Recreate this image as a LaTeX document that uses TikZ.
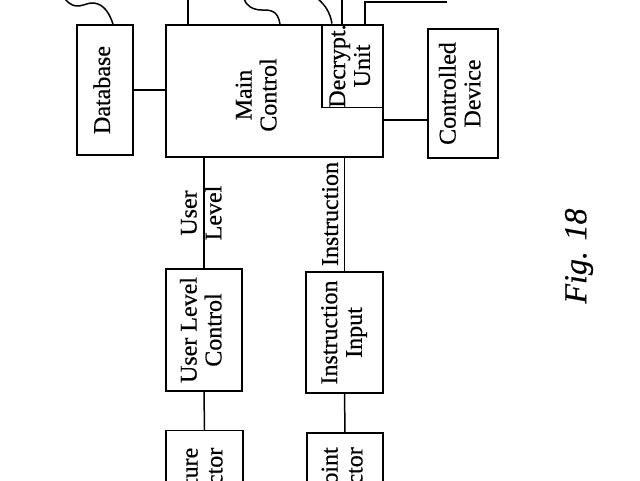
\documentclass[tikz,border=0pt]{standalone}
\usepackage{graphicx}
\usepackage{fontspec}
\setmainfont{Liberation Serif}[FakeBold=0.5]
\newcommand\vtext[1]{\rotatebox{90}{\begin{tabular}{@{}c@{}}#1\end{tabular}}}
\newcommand\vtextr[1]{\rotatebox{90}{\begin{tabular}{@{}r@{}}#1\end{tabular}}}
\newcommand\fsz{\fontsize{24}{24.8}\selectfont}
\begin{document}
\begin{tikzpicture}[x=1pt,y=-1pt, line width=1.5pt,
  box/.style={draw, inner sep=0pt, font=\fsz},
  lbl/.style={inner sep=0pt, font=\fsz}]
\useasboundingbox (0,0) rectangle (640,480);
\clip (0,0) rectangle (640,480);
% boxes
\node[box, minimum width=56pt, minimum height=130pt] (db) at (105,90) {\vtext{Database}};
\node[box, minimum width=217pt, minimum height=132pt] (main) at (274.5,91) {};
\node[lbl] (maintxt) at (259,95) {\vtext{Main\\Control}};
\node[box, minimum width=61pt, minimum height=82pt] (dec) at (352.5,66) {\vtext{Decrypt.\\Unit}};
\node[box, minimum width=70pt, minimum height=129pt] (dev) at (463,93.5) {\vtext{Controlled\\Device}};
\node[box, minimum width=76pt, minimum height=122pt] (ulc) at (204,330) {\vtext{User Level\\Control}};
\node[box, minimum width=77pt, minimum height=121pt] (ii) at (344.5,332.5) {\vtext{Instruction\\Input}};
\node[box, minimum width=77pt, minimum height=129pt] (sig) at (204.5,495) {};
\node[lbl, anchor=north] (sigtxt) at (205,447) {\vtextr{Signature\\Detector}};
\node[box, minimum width=76pt, minimum height=127pt] (ep) at (345,496.5) {};
\node[lbl, anchor=north] (eptxt) at (345,446.5) {\vtextr{Endpoint\\Detector}};
% connectors
\draw (db.east) -- (db.east -| main.west);
\draw ([yshift=-26.5pt]dev.west) coordinate (cd) -- (cd -| main.east);
\draw (ulc.north) -- (ulc.north |- main.south);
\draw (ii.north) -- (ii.north |- main.south);
\draw (ulc.south) -- (sig.north);
\draw (ii.south) -- (ep.north);
% labels
\node[lbl] (ullbl) at (204,213) {\vtext{User\\Level}};
\node[lbl] (inlbl) at (333,214) {\vtext{Instruction}};
\node[lbl, font=\fontsize{32}{36}\selectfont\itshape] (fig) at (579,256) {\rotatebox{90}{Fig. 18}};
% top wires
\coordinate (w1) at (65,-1);
\coordinate (w2) at (244,-1);
\coordinate (w3) at (318,-1);
\coordinate (topbox) at (447,1.5);
\draw ([xshift=8pt]db.north) .. controls (108,8) and (100,3) .. (92,3) .. controls (84,3) and (76,12) .. (w1);
\draw ([xshift=-86.5pt]main.north) -- ++(0,-30);
\draw ([xshift=5.5pt]main.north) .. controls (278,10) and (270,10) .. (262,10) .. controls (252,10) and (246,5) .. (w2);
\draw ([xshift=-20.5pt]dec.north) .. controls (330,12) and (325,5) .. (w3);
\draw ([xshift=-10.5pt]dec.north) -- ++(0,-30);
\draw ([xshift=12.5pt]dec.north) |- (topbox);
\draw[line width=2pt] ([xshift=12.5pt]dec.north |- topbox) -- (topbox);
\end{tikzpicture}
\end{document}
